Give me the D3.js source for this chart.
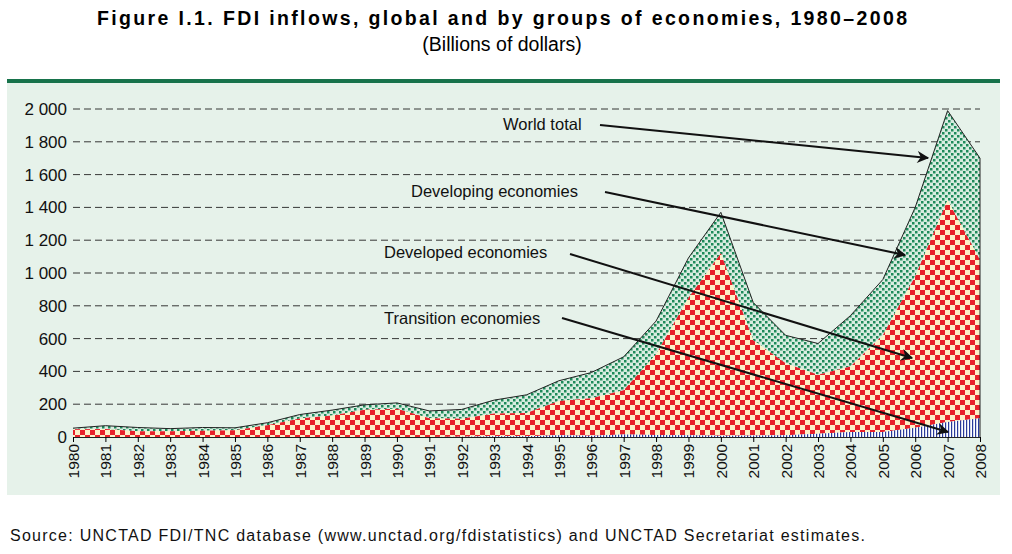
<!DOCTYPE html>
<html><head><meta charset="utf-8">
<script src="https://cdn.jsdelivr.net/npm/d3@7"></script>
<style>body{margin:0;background:#fff;font-family:"Liberation Sans",Arial,sans-serif}</style>
</head><body><svg id="c" width="1012" height="554"></svg>
<script>
const years=d3.range(1980,2009);
const world=[54,69,58,51,58,56,87,137,164,196,208,159,168,225,257,343,393,489,707,1092,1370,820,620,570,740,960,1400,1990,1700];
const developed=[47,49,35,35,38,41,72,113,131,166,172,115,109,139,141,209,228,270,493,838,1113,581,439,360,400,589,923,1354,966];
const transition=[0,0,0,0,0,0,0,0,0,0,0,0,2,4,5,10,8,15,12,11,7,9,11,20,30,31,57,91,114];
const yTicks=[0,200,400,600,800,1000,1200,1400,1600,1800,2000];
const labels=[
 {t:"World total",x:503,y:130,from:[600,125],to:[928,158]},
 {t:"Developing economies",x:411,y:197,from:[605,192],to:[905,255]},
 {t:"Developed economies",x:384,y:258,from:[570,254],to:[912,358]},
 {t:"Transition economies",x:384,y:324,from:[562,318],to:[948,432]}];

const svg=d3.select("#c");
const defs=svg.append("defs");
let p=defs.append("pattern").attr("id","red").attr("width",10).attr("height",10).attr("patternUnits","userSpaceOnUse");
p.append("rect").attr("width",10).attr("height",10).attr("fill","#fdf0c8");
p.append("rect").attr("width",5).attr("height",5).attr("fill","#e8202a");
p.append("rect").attr("x",5).attr("y",5).attr("width",5).attr("height",5).attr("fill","#e8202a");
p=defs.append("pattern").attr("id","grn").attr("width",6).attr("height",6).attr("patternUnits","userSpaceOnUse");
p.append("rect").attr("width",6).attr("height",6).attr("fill","#d8ece0");
p.append("rect").attr("width",2.5).attr("height",2.5).attr("fill","#1e8a5a");
p.append("rect").attr("x",3).attr("y",3).attr("width",2.5).attr("height",2.5).attr("fill","#1e8a5a");
p=defs.append("pattern").attr("id","blu").attr("width",3).attr("height",3).attr("patternUnits","userSpaceOnUse");
p.append("rect").attr("width",3).attr("height",3).attr("fill","#fff");
p.append("rect").attr("width",1.2).attr("height",3).attr("fill","#2a3a9a");
defs.append("marker").attr("id","ar").attr("viewBox","0 0 10 10").attr("refX",9).attr("refY",5)
 .attr("markerWidth",7).attr("markerHeight",6).attr("orient","auto")
 .append("path").attr("d","M0,0L10,5L0,10L3,5Z").attr("fill","#111");

svg.append("text").attr("x",502).attr("y",25).attr("text-anchor","middle").attr("font-weight","bold").attr("font-size",19.5).attr("textLength",810).attr("lengthAdjust","spacing").text("Figure I.1.  FDI inflows, global and by groups of economies, 1980–2008");
svg.append("text").attr("x",502).attr("y",51).attr("text-anchor","middle").attr("font-size",19.5).text("(Billions of dollars)");
svg.append("rect").attr("x",7).attr("y",82).attr("width",993).attr("height",413).attr("fill","#e6f2ea");
svg.append("rect").attr("x",7).attr("y",79).attr("width",993).attr("height",4).attr("fill","#17734b");

const x=d3.scaleLinear().domain([1980,2008]).range([73,980]);
const y=d3.scaleLinear().domain([0,2000]).range([437,109]);

svg.append("g").selectAll("line").data(yTicks.slice(1)).join("line")
 .attr("x1",73).attr("x2",980).attr("y1",d=>y(d)).attr("y2",d=>y(d))
 .attr("stroke","#222").attr("stroke-dasharray","7,4").attr("stroke-width",0.9);

const a=(lo,hi)=>d3.area().x((d,i)=>x(years[i])).y0((d,i)=>y(lo(i))).y1((d,i)=>y(hi(i)));
svg.append("path").datum(years).attr("d",a(i=>developed[i]+transition[i],i=>world[i])).attr("fill","url(#grn)");
svg.append("path").datum(years).attr("d",a(i=>transition[i],i=>developed[i]+transition[i])).attr("fill","url(#red)");
svg.append("path").datum(years).attr("d",a(i=>0,i=>transition[i])).attr("fill","url(#blu)");
svg.append("path").datum(world).attr("d",d3.line().x((d,i)=>x(years[i])).y(d=>y(d))).attr("fill","none").attr("stroke","#222").attr("stroke-width",1);
svg.append("line").attr("x1",980).attr("x2",980).attr("y1",y(world[28])).attr("y2",y(0)).attr("stroke","#222");

const ya=d3.axisLeft(y).tickValues(yTicks).tickSize(0).tickPadding(6).tickFormat(d=>d3.format(",")(d).replace(","," "));
const gy=svg.append("g").attr("transform","translate(73,0)").call(ya);
gy.select(".domain").remove();
gy.selectAll("text").attr("font-size",17).attr("fill","#111").attr("font-family","Liberation Sans,Arial");

const xa=d3.axisBottom(x).tickValues(years).tickSize(5).tickFormat(d=>d);
const gx=svg.append("g").attr("transform","translate(0,437)").call(xa);
gx.select(".domain").attr("stroke","#222");
gx.selectAll("text").attr("font-size",15.5).attr("fill","#111").attr("font-family","Liberation Sans,Arial")
 .attr("transform","rotate(-90)").attr("text-anchor","end").attr("y",0).attr("x",-7)
 .attr("dy",0).attr("dominant-baseline","central");

labels.forEach(l=>{
 svg.append("line").attr("x1",l.from[0]).attr("y1",l.from[1]).attr("x2",l.to[0]).attr("y2",l.to[1])
  .attr("stroke","#111").attr("stroke-width",2).attr("marker-end","url(#ar)");
 svg.append("text").attr("x",l.x).attr("y",l.y).attr("font-size",16.5).attr("fill","#111").text(l.t);
});
svg.append("text").attr("x",10).attr("y",541).attr("font-size",16).attr("textLength",855).attr("lengthAdjust","spacing").attr("fill","#111").text("Source:  UNCTAD FDI/TNC database (www.unctad.org/fdistatistics) and UNCTAD Secretariat estimates.");
</script></body></html>
